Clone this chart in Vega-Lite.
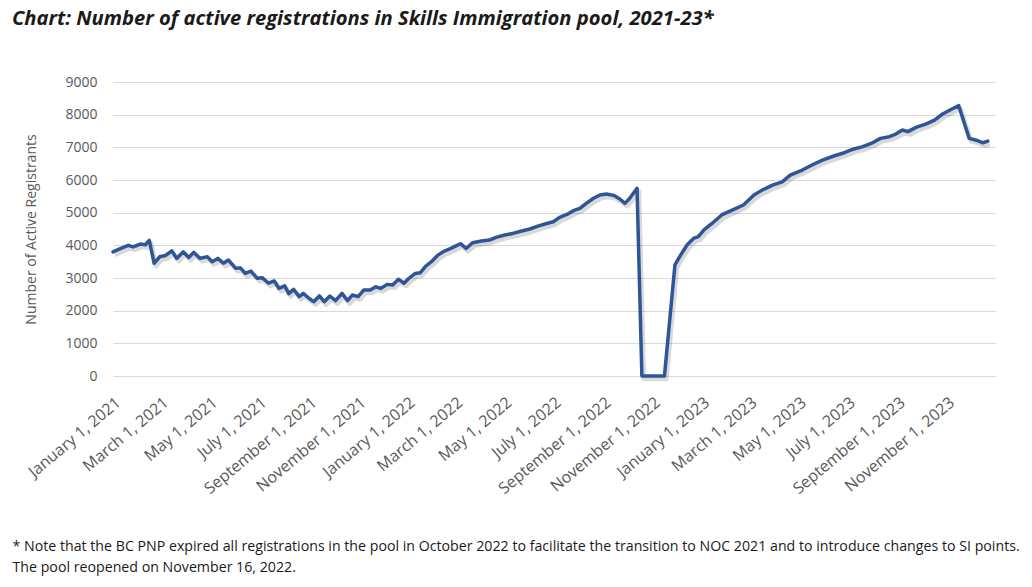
{
  "$schema": "https://vega.github.io/schema/vega-lite/v6.json",
  "width": 882,
  "height": 294,
  "autosize": {"type": "none"},
  "padding": {"left": 113, "top": 82, "right": 37, "bottom": 211},
  "background": "#ffffff",
  "title": {
    "text": "Chart: Number of active registrations in Skills Immigration pool, 2021-23*",
    "anchor": "start",
    "frame": "group",
    "dx": -101,
    "offset": 46,
    "font": "Open Sans",
    "fontSize": 20.2,
    "fontWeight": "bold",
    "fontStyle": "italic",
    "color": "#1a1a1a"
  },
  "config": {
    "view": {"stroke": null},
    "font": "Open Sans"
  },
  "data": {
    "values": [
      {"date": "2021-01-01", "registrants": 3800},
      {"date": "2021-01-10", "registrants": 3900},
      {"date": "2021-01-20", "registrants": 4000},
      {"date": "2021-01-26", "registrants": 3950},
      {"date": "2021-02-04", "registrants": 4040},
      {"date": "2021-02-10", "registrants": 4020},
      {"date": "2021-02-15", "registrants": 4150},
      {"date": "2021-02-21", "registrants": 3450},
      {"date": "2021-02-28", "registrants": 3650},
      {"date": "2021-03-07", "registrants": 3690},
      {"date": "2021-03-15", "registrants": 3830},
      {"date": "2021-03-21", "registrants": 3600},
      {"date": "2021-03-29", "registrants": 3800},
      {"date": "2021-04-05", "registrants": 3630},
      {"date": "2021-04-11", "registrants": 3785},
      {"date": "2021-04-19", "registrants": 3600},
      {"date": "2021-04-28", "registrants": 3650},
      {"date": "2021-05-04", "registrants": 3500},
      {"date": "2021-05-11", "registrants": 3600},
      {"date": "2021-05-18", "registrants": 3450},
      {"date": "2021-05-24", "registrants": 3550},
      {"date": "2021-06-02", "registrants": 3300},
      {"date": "2021-06-08", "registrants": 3310},
      {"date": "2021-06-14", "registrants": 3140},
      {"date": "2021-06-21", "registrants": 3210},
      {"date": "2021-06-29", "registrants": 2990},
      {"date": "2021-07-05", "registrants": 3010},
      {"date": "2021-07-13", "registrants": 2840},
      {"date": "2021-07-20", "registrants": 2910},
      {"date": "2021-07-26", "registrants": 2680},
      {"date": "2021-08-02", "registrants": 2760},
      {"date": "2021-08-07", "registrants": 2520},
      {"date": "2021-08-13", "registrants": 2650},
      {"date": "2021-08-20", "registrants": 2430},
      {"date": "2021-08-25", "registrants": 2530},
      {"date": "2021-09-01", "registrants": 2380},
      {"date": "2021-09-07", "registrants": 2275},
      {"date": "2021-09-14", "registrants": 2450},
      {"date": "2021-09-20", "registrants": 2275},
      {"date": "2021-09-27", "registrants": 2450},
      {"date": "2021-10-04", "registrants": 2305},
      {"date": "2021-10-12", "registrants": 2530},
      {"date": "2021-10-19", "registrants": 2305},
      {"date": "2021-10-25", "registrants": 2480},
      {"date": "2021-11-01", "registrants": 2430},
      {"date": "2021-11-08", "registrants": 2630},
      {"date": "2021-11-16", "registrants": 2630},
      {"date": "2021-11-23", "registrants": 2730},
      {"date": "2021-11-29", "registrants": 2680},
      {"date": "2021-12-07", "registrants": 2805},
      {"date": "2021-12-14", "registrants": 2785},
      {"date": "2021-12-21", "registrants": 2960},
      {"date": "2021-12-28", "registrants": 2840},
      {"date": "2022-01-03", "registrants": 2990},
      {"date": "2022-01-11", "registrants": 3140},
      {"date": "2022-01-17", "registrants": 3160},
      {"date": "2022-01-24", "registrants": 3365},
      {"date": "2022-01-31", "registrants": 3500},
      {"date": "2022-02-08", "registrants": 3700},
      {"date": "2022-02-16", "registrants": 3825},
      {"date": "2022-02-24", "registrants": 3905},
      {"date": "2022-03-03", "registrants": 3990},
      {"date": "2022-03-08", "registrants": 4050},
      {"date": "2022-03-15", "registrants": 3905},
      {"date": "2022-03-23", "registrants": 4080},
      {"date": "2022-04-03", "registrants": 4130},
      {"date": "2022-04-13", "registrants": 4160},
      {"date": "2022-04-21", "registrants": 4245},
      {"date": "2022-05-02", "registrants": 4315},
      {"date": "2022-05-12", "registrants": 4365},
      {"date": "2022-05-23", "registrants": 4440},
      {"date": "2022-06-02", "registrants": 4500},
      {"date": "2022-06-12", "registrants": 4590},
      {"date": "2022-06-23", "registrants": 4670},
      {"date": "2022-07-01", "registrants": 4720},
      {"date": "2022-07-09", "registrants": 4855},
      {"date": "2022-07-18", "registrants": 4945},
      {"date": "2022-07-26", "registrants": 5060},
      {"date": "2022-08-03", "registrants": 5130},
      {"date": "2022-08-11", "registrants": 5285},
      {"date": "2022-08-20", "registrants": 5440},
      {"date": "2022-08-28", "registrants": 5540},
      {"date": "2022-09-05", "registrants": 5570},
      {"date": "2022-09-14", "registrants": 5530},
      {"date": "2022-09-22", "registrants": 5410},
      {"date": "2022-09-28", "registrants": 5285},
      {"date": "2022-10-04", "registrants": 5440},
      {"date": "2022-10-13", "registrants": 5745},
      {"date": "2022-10-19", "registrants": 0},
      {"date": "2022-11-16", "registrants": 0},
      {"date": "2022-11-29", "registrants": 3400},
      {"date": "2022-12-06", "registrants": 3700},
      {"date": "2022-12-14", "registrants": 4010},
      {"date": "2022-12-22", "registrants": 4210},
      {"date": "2022-12-28", "registrants": 4265},
      {"date": "2023-01-04", "registrants": 4470},
      {"date": "2023-01-14", "registrants": 4670},
      {"date": "2023-01-26", "registrants": 4930},
      {"date": "2023-02-10", "registrants": 5100},
      {"date": "2023-02-22", "registrants": 5235},
      {"date": "2023-03-07", "registrants": 5540},
      {"date": "2023-03-17", "registrants": 5690},
      {"date": "2023-03-30", "registrants": 5845},
      {"date": "2023-04-11", "registrants": 5945},
      {"date": "2023-04-21", "registrants": 6150},
      {"date": "2023-05-06", "registrants": 6305},
      {"date": "2023-05-18", "registrants": 6460},
      {"date": "2023-05-31", "registrants": 6610},
      {"date": "2023-06-14", "registrants": 6735},
      {"date": "2023-06-27", "registrants": 6835},
      {"date": "2023-07-09", "registrants": 6950},
      {"date": "2023-07-20", "registrants": 7020},
      {"date": "2023-08-01", "registrants": 7140},
      {"date": "2023-08-11", "registrants": 7275},
      {"date": "2023-08-22", "registrants": 7325},
      {"date": "2023-08-30", "registrants": 7405},
      {"date": "2023-09-07", "registrants": 7530},
      {"date": "2023-09-14", "registrants": 7480},
      {"date": "2023-09-24", "registrants": 7610},
      {"date": "2023-10-06", "registrants": 7710},
      {"date": "2023-10-17", "registrants": 7835},
      {"date": "2023-10-27", "registrants": 8020},
      {"date": "2023-11-07", "registrants": 8165},
      {"date": "2023-11-16", "registrants": 8275},
      {"date": "2023-11-29", "registrants": 7275},
      {"date": "2023-12-10", "registrants": 7200},
      {"date": "2023-12-16", "registrants": 7140},
      {"date": "2023-12-22", "registrants": 7190}
    ]
  },
  "encoding": {
    "x": {
      "field": "date",
      "type": "temporal",
      "scale": {
        "type": "utc",
        "domain": [
          {"year": 2021, "month": 1, "date": 1, "utc": true},
          {"year": 2023, "month": 12, "date": 31, "utc": true}
        ]
      },
      "axis": {
        "labelExpr": "utcFormat(datum.value, '%B %-d, %Y')",
        "tickCount": {"interval": "month", "step": 2},
        "labelAngle": -40,
        "labelFontSize": 16,
        "labelColor": "#595959",
        "labelFont": "Open Sans",
        "labelOverlap": false,
        "labelFlush": false,
        "labelPadding": 18,
        "ticks": false,
        "grid": false,
        "domain": true,
        "domainColor": "#d9d9d9",
        "title": [
          "* Note that the BC PNP expired all registrations in the pool in October 2022 to facilitate the transition to NOC 2021 and to introduce changes to SI points.",
          "The pool reopened on November 16, 2022."
        ],
        "titleFont": "Open Sans",
        "titleFontSize": 14.2,
        "titleFontWeight": "normal",
        "titleColor": "#1a1a1a",
        "titleAnchor": "start",
        "titleAlign": "left",
        "titleBaseline": "alphabetic",
        "titleLineHeight": 21,
        "titleX": -101,
        "titleY": 174
      }
    },
    "y": {
      "field": "registrants",
      "type": "quantitative",
      "scale": {"domain": [0, 9000], "nice": false},
      "axis": {
        "values": [0, 1000, 2000, 3000, 4000, 5000, 6000, 7000, 8000, 9000],
        "format": "d",
        "labelFontSize": 14,
        "labelColor": "#595959",
        "labelFont": "Open Sans",
        "labelPadding": 16,
        "ticks": false,
        "domain": false,
        "gridColor": "#d9d9d9",
        "gridWidth": 1,
        "title": "Number of Active Registrants",
        "titleFont": "Open Sans",
        "titleFontSize": 14,
        "titleFontWeight": "normal",
        "titleColor": "#595959",
        "titlePadding": 26
      }
    }
  },
  "layer": [
    {
      "mark": {"type": "line", "color": "#000000", "opacity": 0.15, "strokeWidth": 4.5, "xOffset": 2, "yOffset": 3, "strokeJoin": "round"}
    },
    {
      "mark": {"type": "line", "color": "#2f5597", "strokeWidth": 3.5, "strokeJoin": "round", "strokeCap": "round"}
    }
  ]
}
